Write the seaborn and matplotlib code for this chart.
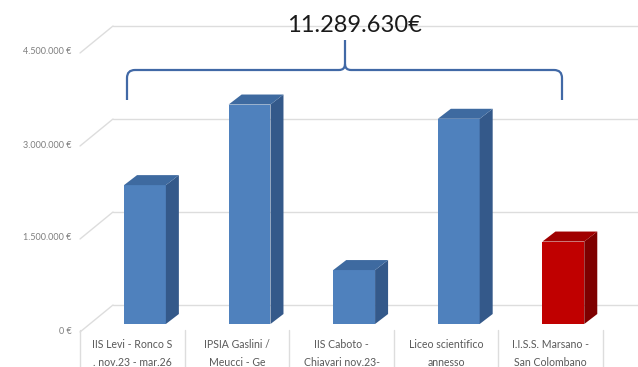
import matplotlib
matplotlib.use("Agg")
import matplotlib.pyplot as plt
import seaborn as sns
import pandas as pd
from matplotlib.path import Path
from matplotlib.patches import PathPatch, Polygon
from matplotlib.transforms import ScaledTranslation

# ---- data ----
categories = [
    "IIS Levi - Ronco S\n. nov.23 - mar.26",
    "IPSIA Gaslini /\nMeucci - Ge",
    "IIS Caboto -\nChiavari nov.23-",
    "Liceo scientifico\nannesso",
    "I.I.S.S. Marsano -\nSan Colombano",
]
values = [2240000, 3540000, 870000, 3310000, 1330000]
front_colors = ["#4F81BD", "#4F81BD", "#4F81BD", "#4F81BD", "#C00000"]
side_colors = ["#34598A", "#34598A", "#34598A", "#34598A", "#7E0000"]
top_colors = ["#3E6AA0", "#3E6AA0", "#3E6AA0", "#3E6AA0", "#A00000"]
yticks = [0, 1500000, 3000000, 4500000]
ytick_labels = ["0 €", "1.500.000 €", "3.000.000 €", "4.500.000 €"]
total_label = "11.289.630€"

sns.set_theme(style="white")
plt.rcParams["font.family"] = ["Lato", "DejaVu Sans"]

W, H = 638, 367
fig = plt.figure(figsize=(W / 100, H / 100), dpi=100)
ax_left_px, ax_right_px, ax_bottom_px = 80, 603, 324
ax = fig.add_axes([ax_left_px / W, (H - ax_bottom_px) / H,
                   (ax_right_px - ax_left_px) / W, ax_bottom_px / H])

px_per_cat = 104.6
px_per_unit_y = 93 / 1500000
xl = -0.621
xr = xl + (ax_right_px - ax_left_px) / px_per_cat
ytop = ax_bottom_px / px_per_unit_y

df = pd.DataFrame({"cat": categories, "val": values})
sns.barplot(data=df, x="cat", y="val", hue="cat", palette=front_colors,
            width=0.40, legend=False, ax=ax, saturation=1, zorder=3,
            linewidth=0, edgecolor="none")
ax.set_xlim(xl, xr)
ax.set_ylim(0, ytop)

def px_x(p):
    return p / px_per_cat

def px_y(p):
    return p / px_per_unit_y

# 3D faces of the bars
ddx, ddy = px_x(13), px_y(10)
for patch, sc, tc in zip(ax.patches, side_colors, top_colors):
    x0 = patch.get_x()
    w = patch.get_width()
    h = patch.get_height()
    x1 = x0 + w
    side = Polygon([(x1, 0), (x1, h), (x1 + ddx, h + ddy), (x1 + ddx, ddy)],
                   closed=True, facecolor=sc, edgecolor="none", zorder=3)
    top = Polygon([(x0, h), (x1, h), (x1 + ddx, h + ddy), (x0 + ddx, h + ddy)],
                  closed=True, facecolor=tc, edgecolor="none", zorder=3)
    ax.add_patch(side)
    ax.add_patch(top)

# back-wall gridlines and left wall diagonals
gdx, gdy = px_x(33), px_y(19)
x_far = xl + (W - ax_left_px) / px_per_cat
grid_color = "#DDDDDD"
for t in yticks:
    ax.plot([xl + gdx, x_far], [t + gdy, t + gdy], color=grid_color, lw=1.0,
            zorder=1, clip_on=False)
    ax.plot([xl, xl + gdx], [t - px_y(8), t + gdy], color=grid_color, lw=1.0,
            zorder=1, clip_on=False)

# category label boxes (dividers)
for k in range(len(categories) + 1):
    xb = xl + k
    ax.plot([xb, xb], [-px_y(6), -px_y(60)], color=grid_color, lw=1.0,
            clip_on=False, zorder=1)

# axes styling
for s in ax.spines.values():
    s.set_visible(False)
ax.set_xlabel("")
ax.set_ylabel("")
ax.set_xticks([i - 0.12 for i in range(len(categories))])
ax.set_xticklabels(categories, fontsize=7.6, color="#595959", linespacing=1.8)
ax.tick_params(axis="x", length=0, pad=11)
ax.set_yticks(yticks)
ax.set_yticklabels(ytick_labels, fontsize=6.5, color="#7F7F7F")
ax.tick_params(axis="y", length=0, pad=6)
for lab in ax.get_yticklabels():
    lab.set_transform(lab.get_transform() + ScaledTranslation(0, -6 / 100, fig.dpi_scale_trans))
ax.grid(False)
ax.patch.set_alpha(0)

# total label and brace
fig.text(354 / W, 1 - 25 / H, total_label, ha="center", va="center",
         fontsize=17, color="#1A1A1A")

def P(x, y):
    return (x / W, 1 - y / H)

xL, xC, xR, yb, yh, yt, r = 127, 345, 562, 100, 70, 40, 8
verts = [P(xL, yb), P(xL, yh + r), P(xL, yh), P(xL + r, yh), P(xC - 6, yh),
         P(xC, yh), P(xC, yh - 6), P(xC, yt)]
codes = [Path.MOVETO, Path.LINETO, Path.CURVE3, Path.CURVE3, Path.LINETO,
         Path.CURVE3, Path.CURVE3, Path.LINETO]
verts2 = [P(xC, yh - 6), P(xC, yh), P(xC + 6, yh), P(xR - r, yh), P(xR, yh),
          P(xR, yh + r), P(xR, yb)]
codes2 = [Path.MOVETO, Path.CURVE3, Path.CURVE3, Path.LINETO, Path.CURVE3,
          Path.CURVE3, Path.LINETO]
for v, c in [(verts, codes), (verts2, codes2)]:
    fig.add_artist(PathPatch(Path(v, c), transform=fig.transFigure,
                             facecolor="none", edgecolor="#4169A6", lw=1.6))

fig.savefig("out.png", dpi=100)
